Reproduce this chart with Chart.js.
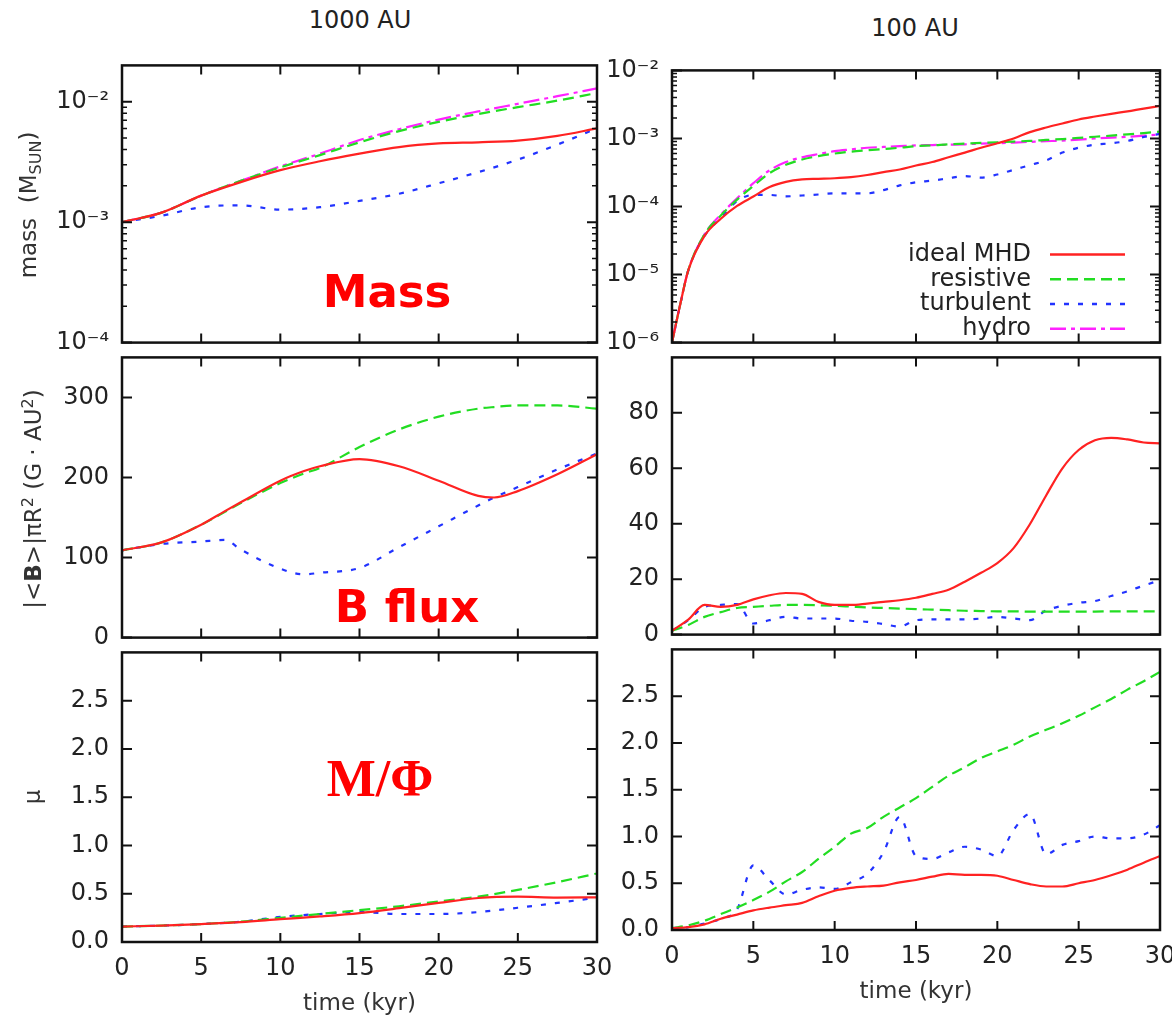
<!DOCTYPE html>
<html>
<head>
<meta charset="utf-8">
<title>Mass, B flux and M/Φ at 1000 AU and 100 AU</title>
<script src="https://cdn.jsdelivr.net/npm/chart.js@4.4.1/dist/chart.umd.min.js"></script>
<style>
  html, body { margin: 0; padding: 0; background: #fff; overflow: hidden; }
  body { width: 1172px; height: 1023px; position: relative; font-family: "DejaVu Sans", Verdana, sans-serif; color: #222; }
  canvas { position: absolute; }
  .lbl { position: absolute; white-space: nowrap; transform: translate(-50%, -50%); z-index: 2; }
  .rot { transform: translate(-50%, -50%) rotate(-90deg); }
  .col { font-size: 24px; }
  .ytitle { font-size: 23px; color: #333; }
  .ytitle sub, .ytitle sup { font-size: 16px; }
  .note { color: #ff0000; font-family: "DejaVu Sans", Verdana, sans-serif; font-weight: bold; font-size: 45px; }
  .note.serif { font-family: "Liberation Serif", "Times New Roman", serif; font-size: 52px; }
</style>
</head>
<body>

<div class="lbl col" style="left:360px; top:20px;">1000 AU</div>
<div class="lbl col" style="left:915px; top:28px;">100 AU</div>

<div class="lbl rot ytitle" style="left:30px; top:205px;">mass&nbsp; (M<sub>SUN</sub>)</div>
<div class="lbl rot ytitle" style="left:32px; top:499px;">|&lt;<b>B</b>&gt;|πR<sup>2</sup> (G · AU<sup>2</sup>)</div>
<div class="lbl rot ytitle" style="left:32px; top:797px;">μ</div>

<div class="lbl note" style="left:387px; top:291px;">Mass</div>
<div class="lbl note" style="left:407px; top:606px;">B flux</div>
<div class="lbl note serif" style="left:380px; top:778px;">M/Φ</div>

<script>
document.addEventListener("DOMContentLoaded", () => {
  Chart.defaults.font.family = '"DejaVu Sans", Verdana, sans-serif';
  Chart.defaults.color = '#222';

  // ---- time axes (kyr)
  const t1000 = [0, 2.5, 5, 7.5, 10, 12.5, 15, 17.5, 20, 22.5, 25, 27.5, 30];
  const tFlux1000 = [0, 2.5, 5, 6.5, 7.5, 10, 11.5, 12.5, 15, 17.5, 20, 22.5, 23.5, 25, 27.5, 30];
  const tMass100 = [0, 0.5, 1, 2, 3, 4, 5, 6, 7, 8, 9, 10, 11, 12, 13, 14, 15, 16, 17, 18, 19, 20,
                    21, 22, 23, 24, 25, 26, 27, 28, 29, 30];
  const t100 = [0, 1, 2, 3, 4, 5, 6, 7, 8, 9, 10, 11, 12, 13, 14, 15, 16, 17, 18, 19, 20,
                21, 22, 23, 24, 25, 26, 27, 28, 29, 30];

  // ---- 1000 AU: mass (M_sun)
  const massIdeal1000  = [1.0e-3, 1.2e-3, 1.66e-3, 2.15e-3, 2.7e-3, 3.2e-3, 3.7e-3, 4.2e-3, 4.5e-3, 4.6e-3, 4.75e-3, 5.2e-3, 6.0e-3];
  const massResist1000 = [1.0e-3, 1.2e-3, 1.66e-3, 2.2e-3, 2.85e-3, 3.6e-3, 4.6e-3, 5.7e-3, 6.8e-3, 7.9e-3, 9.0e-3, 10.2e-3, 11.8e-3];
  const massTurb1000   = [1.0e-3, 1.13e-3, 1.33e-3, 1.38e-3, 1.27e-3, 1.33e-3, 1.5e-3, 1.72e-3, 2.1e-3, 2.6e-3, 3.3e-3, 4.4e-3, 6.0e-3];
  const massHydro1000  = [1.0e-3, 1.2e-3, 1.66e-3, 2.2e-3, 2.9e-3, 3.7e-3, 4.8e-3, 5.9e-3, 7.1e-3, 8.3e-3, 9.6e-3, 11.1e-3, 12.9e-3];

  // ---- 1000 AU: B flux (G AU^2)
  const fluxIdeal1000  = [109, 119, 141, 158, 169, 196, 208, 214, 223, 214, 196, 177, 175, 183, 204, 229];
  const fluxResist1000 = [109, 119, 141, 157, 168, 193, 205, 212, 238, 260, 276, 286, 288, 290, 290, 286];
  const fluxTurb1000   = [109, 117, 120, 122, 110, 86, 79, 81, 87, 113, 139, 165, 175, 188, 210, 230];

  // ---- 1000 AU: mu
  const muIdeal1000  = [0.16, 0.17, 0.186, 0.205, 0.236, 0.265, 0.30, 0.35, 0.405, 0.456, 0.47, 0.46, 0.463];
  const muResist1000 = [0.16, 0.17, 0.186, 0.21, 0.25, 0.29, 0.33, 0.37, 0.42, 0.47, 0.54, 0.62, 0.71];
  const muTurb1000   = [0.16, 0.17, 0.186, 0.21, 0.26, 0.29, 0.31, 0.29, 0.29, 0.31, 0.355, 0.405, 0.46];

  // ---- 100 AU: mass
  const massIdeal100  = [1e-6, 3.6e-6, 1.15e-5, 3.7e-5, 6.6e-5, 1.02e-4, 1.4e-4, 1.93e-4, 2.3e-4, 2.5e-4, 2.55e-4,
                         2.6e-4, 2.7e-4, 2.9e-4, 3.2e-4, 3.5e-4, 4.0e-4, 4.5e-4, 5.3e-4, 6.2e-4, 7.3e-4, 8.5e-4,
                         1.0e-3, 1.24e-3, 1.45e-3, 1.66e-3, 1.9e-3, 2.1e-3, 2.3e-3, 2.5e-3, 2.75e-3, 3.0e-3];
  const massResist100 = [1e-6, 3.6e-6, 1.15e-5, 3.9e-5, 7.4e-5, 1.26e-4, 2.0e-4, 3.1e-4, 4.1e-4, 4.9e-4, 5.5e-4,
                         6.0e-4, 6.4e-4, 6.7e-4, 7.0e-4, 7.3e-4, 7.7e-4, 7.9e-4, 8.2e-4, 8.4e-4, 8.6e-4, 8.8e-4,
                         9.0e-4, 9.2e-4, 9.5e-4, 9.8e-4, 1.02e-3, 1.06e-3, 1.1e-3, 1.15e-3, 1.2e-3, 1.26e-3];
  const massTurb100   = [1e-6, 3.6e-6, 1.15e-5, 3.7e-5, 6.8e-5, 1.2e-4, 1.48e-4, 1.48e-4, 1.41e-4, 1.45e-4, 1.5e-4,
                         1.56e-4, 1.56e-4, 1.56e-4, 1.74e-4, 2.04e-4, 2.27e-4, 2.4e-4, 2.6e-4, 2.8e-4, 2.66e-4, 2.95e-4,
                         3.46e-4, 4.06e-4, 4.76e-4, 6.2e-4, 7.3e-4, 8.1e-4, 8.5e-4, 9.2e-4, 1.05e-3, 1.17e-3];
  const massHydro100  = [1e-6, 3.6e-6, 1.15e-5, 3.9e-5, 7.6e-5, 1.32e-4, 2.2e-4, 3.4e-4, 4.5e-4, 5.3e-4, 5.9e-4,
                         6.5e-4, 6.9e-4, 7.3e-4, 7.5e-4, 7.7e-4, 7.9e-4, 8.0e-4, 8.1e-4, 8.2e-4, 8.4e-4, 8.5e-4,
                         8.7e-4, 8.9e-4, 9.1e-4, 9.3e-4, 9.6e-4, 1.0e-3, 1.03e-3, 1.06e-3, 1.1e-3, 1.14e-3];

  // ---- 100 AU: B flux
  const fluxIdeal100  = [1.4, 5.4, 10.7, 10.0, 10.7, 12.7, 14.2, 15.0, 14.7, 11.8, 10.7, 10.7, 11.2, 11.8, 12.4, 13.3,
                         14.7, 16.2, 19.1, 22.3, 25.8, 31.2, 39.8, 50.2, 60.0, 66.6, 70.1, 71.0, 70.4, 69.3, 69.0];
  const fluxResist100 = [1.4, 3.5, 6.4, 8.1, 9.6, 10.0, 10.4, 10.7, 10.7, 10.6, 10.4, 10.1, 9.8, 9.6, 9.4, 9.2,
                         9.0, 8.8, 8.6, 8.5, 8.4, 8.4, 8.3, 8.3, 8.3, 8.3, 8.3, 8.4, 8.4, 8.4, 8.4];
  const fluxTurb100   = [1.4, 5.2, 10.0, 10.7, 11.0, 4.0, 5.2, 6.4, 5.8, 5.8, 5.8, 5.0, 4.6, 3.8, 2.9, 5.2,
                         5.5, 5.5, 5.5, 5.8, 6.4, 5.8, 5.2, 8.7, 10.4, 11.5, 12.1, 13.9, 15.6, 17.7, 19.6];

  // ---- 100 AU: mu
  const muIdeal100  = [0.02, 0.03, 0.06, 0.12, 0.165, 0.21, 0.24, 0.265, 0.29, 0.36, 0.42, 0.45, 0.465, 0.475, 0.51, 0.535,
                       0.57, 0.60, 0.59, 0.59, 0.58, 0.535, 0.49, 0.465, 0.465, 0.50, 0.535, 0.585, 0.645, 0.72, 0.79];
  const muResist100 = [0.02, 0.05, 0.10, 0.17, 0.24, 0.32, 0.41, 0.52, 0.62, 0.76, 0.89, 1.03, 1.09, 1.21, 1.31, 1.41,
                       1.53, 1.65, 1.74, 1.84, 1.91, 1.98, 2.07, 2.14, 2.21, 2.29, 2.38, 2.47, 2.57, 2.66, 2.76];
  const muTurb100   = [0.02, 0.03, 0.07, 0.12, 0.22, 0.69, 0.53, 0.38, 0.43, 0.455, 0.44, 0.51, 0.60, 0.83, 1.21, 0.79,
                       0.76, 0.83, 0.89, 0.86, 0.79, 1.07, 1.24, 0.81, 0.91, 0.95, 1.0, 0.98, 0.98, 1.02, 1.12];

  // ---- tick values
  const xTickVals = [0, 5, 10, 15, 20, 25, 30];
  const massTicks1000 = [1e-4, 1e-3, 1e-2];
  const massTicks100 = [1e-6, 1e-5, 1e-4, 1e-3, 1e-2];
  const fluxTicks1000 = [0, 100, 200, 300];
  const fluxTicks100 = [0, 20, 40, 60, 80];
  const muTicks = [0, 0.5, 1.0, 1.5, 2.0, 2.5];

  const seriesStyle = [
    { label: 'ideal MHD', color: '#ff2222', dash: [] },
    { label: 'resistive', color: '#22dd22', dash: [11, 6] },
    { label: 'turbulent', color: '#2233ff', dash: [5, 9] },
    { label: 'hydro',     color: '#ff22ff', dash: [16, 5, 4, 5] }
  ];

  const SUP = { '-': '⁻', '0': '⁰', '1': '¹', '2': '²', '3': '³', '4': '⁴', '5': '⁵', '6': '⁶', '7': '⁷', '8': '⁸', '9': '⁹' };
  const powLabel = v => '10' + String(Math.round(Math.log10(v))).split('').map(c => SUP[c]).join('');

  // frame with inward ticks on every side (gnuplot look)
  const framePlugin = {
    id: 'frame',
    afterDatasetsDraw(chart) {
      const { ctx, chartArea: a, scales: { x, y } } = chart;
      ctx.save();
      ctx.strokeStyle = '#111';
      ctx.lineWidth = 2;
      ctx.setLineDash([]);
      ctx.beginPath();
      xTickVals.slice(1, -1).forEach(v => {
        const px = x.getPixelForValue(v);
        ctx.moveTo(px, a.bottom); ctx.lineTo(px, a.bottom - 9);
        ctx.moveTo(px, a.top); ctx.lineTo(px, a.top + 9);
      });
      y.ticks.forEach(t => {
        const py = y.getPixelForValue(t.value);
        ctx.moveTo(a.left, py); ctx.lineTo(a.left + 10, py);
        ctx.moveTo(a.right, py); ctx.lineTo(a.right - 10, py);
      });
      ctx.stroke();
      if (y.type === 'logarithmic') {
        ctx.lineWidth = 1.5;
        ctx.beginPath();
        for (let n = Math.floor(Math.log10(y.min)); n <= Math.ceil(Math.log10(y.max)); n++) {
          for (let k = 2; k <= 9; k++) {
            const v = k * Math.pow(10, n);
            if (v <= y.min || v >= y.max) continue;
            const py = y.getPixelForValue(v);
            ctx.moveTo(a.left, py); ctx.lineTo(a.left + 5, py);
            ctx.moveTo(a.right, py); ctx.lineTo(a.right - 5, py);
          }
        }
        ctx.stroke();
      }
      ctx.lineWidth = 2.5;
      ctx.strokeRect(a.left, a.top, a.right - a.left, a.bottom - a.top);
      ctx.restore();
    }
  };

  // gnuplot style key: text then line sample
  const keyPlugin = {
    id: 'key',
    afterDraw(chart) {
      const { ctx, chartArea: a } = chart;
      ctx.save();
      ctx.font = '24px "DejaVu Sans", Verdana, sans-serif';
      ctx.textAlign = 'right';
      ctx.textBaseline = 'middle';
      chart.data.datasets.forEach((ds, i) => {
        const y = a.bottom - 88 + i * 24.7;
        ctx.fillStyle = '#222';
        ctx.fillText(ds.label, a.right - 129, y);
        ctx.strokeStyle = ds.borderColor;
        ctx.lineWidth = 2.5;
        ctx.setLineDash(ds.borderDash);
        ctx.beginPath();
        ctx.moveTo(a.right - 110, y);
        ctx.lineTo(a.right - 35, y);
        ctx.stroke();
      });
      ctx.restore();
    }
  };

  const PAD_TOP = 20, PAD_RIGHT = 30;

  const panels = [
    { area: { l: 122, t: 58, r: 597, b: 350 }, yw: 110, bottom: false, type: 'logarithmic', min: 1e-4, max: 2e-2,
      ticks: massTicks1000, label: powLabel, times: t1000,
      values: [massIdeal1000, massResist1000, massTurb1000, massHydro1000] },
    { area: { l: 122, t: 350, r: 597, b: 645 }, yw: 110, bottom: false, type: 'linear', min: 0, max: 350,
      ticks: fluxTicks1000, label: v => String(v), times: tFlux1000,
      values: [fluxIdeal1000, fluxResist1000, fluxTurb1000] },
    { area: { l: 122, t: 645, r: 597, b: 942 }, yw: 110, bottom: true, type: 'linear', min: 0, max: 3,
      ticks: muTicks, label: v => v.toFixed(1), times: t1000,
      values: [muIdeal1000, muResist1000, muTurb1000] },
    { area: { l: 672, t: 63, r: 1160, b: 350 }, yw: 70, bottom: false, type: 'logarithmic', min: 1e-6, max: 1e-2,
      ticks: massTicks100, label: powLabel, times: tMass100, key: true,
      values: [massIdeal100, massResist100, massTurb100, massHydro100] },
    { area: { l: 672, t: 350, r: 1160, b: 642 }, yw: 70, bottom: false, type: 'linear', min: 0, max: 100,
      ticks: fluxTicks100, label: v => String(v), times: t100,
      values: [fluxIdeal100, fluxResist100, fluxTurb100] },
    { area: { l: 672, t: 642, r: 1160, b: 930 }, yw: 70, bottom: true, type: 'linear', min: 0, max: 3,
      ticks: muTicks, label: v => v.toFixed(1), times: t100,
      values: [muIdeal100, muResist100, muTurb100] }
  ];

  panels.forEach(p => {
    const xh = p.bottom ? 80 : 20;
    const canvas = document.createElement('canvas');
    canvas.width = p.yw + (p.area.r - p.area.l) + PAD_RIGHT;
    canvas.height = PAD_TOP + (p.area.b - p.area.t) + xh;
    canvas.style.left = (p.area.l - p.yw) + 'px';
    canvas.style.top = (p.area.t - PAD_TOP) + 'px';
    document.body.appendChild(canvas);

    const datasets = p.values.map((vals, i) => ({
      label: seriesStyle[i].label,
      data: vals.map((v, j) => ({ x: p.times[j], y: v })),
      borderColor: seriesStyle[i].color,
      borderDash: seriesStyle[i].dash,
      borderWidth: 2.2,
      pointRadius: 0,
      fill: false,
      cubicInterpolationMode: 'monotone'
    }));

    new Chart(canvas, {
      type: 'line',
      data: { datasets },
      options: {
        responsive: false,
        animation: false,
        devicePixelRatio: 1,
        layout: { padding: { top: PAD_TOP, right: PAD_RIGHT, left: 0, bottom: 0 } },
        plugins: { legend: { display: false }, tooltip: { enabled: false } },
        scales: {
          x: {
            type: 'linear', min: 0, max: 30,
            grid: { display: false, drawTicks: false },
            border: { display: false },
            ticks: { display: p.bottom, stepSize: 5, padding: 12, color: '#222', font: { size: 24 } },
            title: { display: p.bottom, text: 'time (kyr)', color: '#333', font: { size: 23 }, padding: { top: 4, bottom: 4 } },
            afterFit: s => { s.height = xh; }
          },
          y: {
            type: p.type, min: p.min, max: p.max,
            grid: { display: false, drawTicks: false },
            border: { display: false },
            ticks: { padding: 13, color: '#222', font: { size: 24 }, callback: v => p.label(v) },
            afterBuildTicks: s => { s.ticks = p.ticks.map(v => ({ value: v })); },
            afterFit: s => { s.width = p.yw; }
          }
        }
      },
      plugins: p.key ? [framePlugin, keyPlugin] : [framePlugin]
    });
  });
});
</script>
</body>
</html>
